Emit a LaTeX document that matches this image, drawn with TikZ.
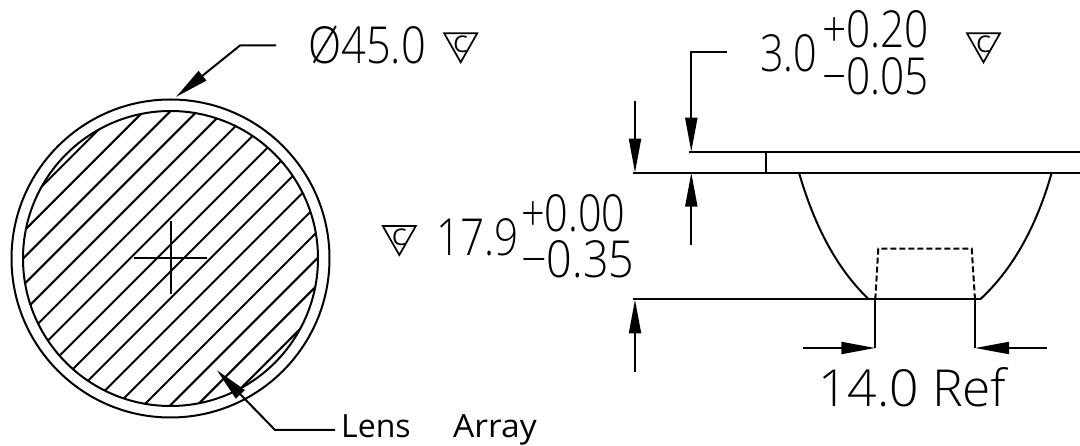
\documentclass[tikz,border=0pt]{standalone}
\usepackage{fontspec}
\setmainfont{Open Sans Light}
\newfontfamily\labelfont{Open Sans}
\usetikzlibrary{arrows.meta,calc}
\tikzset{
	part/.style={line width=2pt},
	dim/.style={line width=2pt,-{Triangle[length=34pt,width=12pt]},shorten >=0pt},
	lbl/.style={inner sep=0pt,anchor=base west},
	big/.style={lbl,font=\fontsize{51}{51}\selectfont},
	small/.style={lbl,font=\labelfont\fontsize{32}{32}\selectfont},
	tri/.style={line width=1.7pt},
}
\newcommand{\datum}[2]{%
	\coordinate (#1) at #2;
	\draw[tri] (#1) ++(-16.5,-10) -- ++(33,0) -- ++(-16.5,29) -- cycle;
	\node[inner sep=0pt,font=\labelfont\fontsize{23}{23}\selectfont] (#1t) at ([yshift=-1pt]#1) {C};
}
\begin{document}
\begin{tikzpicture}[x=1pt,y=-1pt]
	\useasboundingbox (0,0) rectangle (1080,446);
	% round view
	\coordinate (c) at (170.5,258.5);
	\draw[part] (c) circle (159);
	\draw[part] (c) circle (147.5);
	\begin{scope}
		\clip (c) circle (147.5);
		\foreach \n in {0,...,15}
			\draw[part,rotate around={45:(c)}] ($(c)+(-160,-142+18.9*\n)$) -- ($(c)+(160,-142+18.9*\n)$);
	\end{scope}
	\coordinate (ch) at (134,258.5);
	\coordinate (chr) at (207,258.5);
	\coordinate (cv) at (170.5,221);
	\coordinate (cvb) at (170.5,294);
	\draw[part] (ch) -- (chr);
	\draw[part] (cv) -- (cvb);
	% diameter
	\node[big,xscale=0.85] (dia) at (308,63.5) {Ø45.0};
	\coordinate (l0) at (276,45.5);
	\coordinate (l1) at (240,45.5);
	\coordinate (l2) at (176,97);
	\draw[dim] (l0) -- (l1) -- (l2);
	\datum{d0}{(460.7,43.3)}
	% lens array
	\node[small] (lens) at (341,438) {Lens};
	\node[small,xscale=1.05] (array) at (453,438) {Array};
	\coordinate (a0) at (335,430);
	\coordinate (a1) at (275,430);
	\coordinate (a2) at (216.7,370);
	\draw[dim] (a0) -- (a1) -- (a2);
	% side view
	\coordinate (p0) at (689,151.7);
	\coordinate (p1) at (1080,151.7);
	\coordinate (p2) at (632.7,172.7);
	\coordinate (p3) at (1080,172.7);
	\coordinate (p4) at (766,151.7);
	\coordinate (p5) at (766,172.7);
	\coordinate (b0) at (632.7,299.5);
	\coordinate (b1) at (980,299.5);
	\draw[part] (p0) -- (p1);
	\draw[part] (p2) -- (p3);
	\draw[part] (p4) -- (p5);
	\draw[part] (b0) -- (b1);
	\draw[part] (799,172.7) .. controls (815,228) and (838,270) .. (869,299.5);
	\draw[part] (1051.7,172.7) .. controls (1036,228) and (1012,270) .. (980,299.5);
	\draw[part,dash pattern=on 6pt off 3pt] (875.3,299.5) -- (878.3,248.7) -- (971.7,248.7) -- (975,299.5);
	% thickness
	\coordinate (t0) at (727,52.5);
	\coordinate (t1) at (691.3,52.5);
	\coordinate (t2) at (691.3,151.7);
	\coordinate (t3) at (691.3,245);
	\coordinate (t4) at (691.3,172.7);
	\draw[dim] (t0) -- (t1) -- (t2);
	\draw[dim] (t3) -- (t4);
	\node[big,xscale=0.81] (th) at (760,71.5) {3.0};
	\node[big,xscale=0.83] (thp) at (822,47.3) {+0.20};
	\node[big,xscale=0.83] (thm) at (822,95) {−0.05};
	\datum{d1}{(983.5,43.3)}
	% height
	\coordinate (h0) at (635,101);
	\coordinate (h1) at (635,172.7);
	\coordinate (h2) at (635,372);
	\coordinate (h3) at (635,299.5);
	\draw[dim] (h0) -- (h1);
	\draw[dim] (h2) -- (h3);
	\datum{d2}{(399.3,236)}
	\node[big,xscale=0.83] (ht) at (436,256) {17.9};
	\node[big,xscale=0.81] (htp) at (521,231.5) {+0.00};
	\node[big,xscale=0.88] (htm) at (521,278) {−0.35};
	% width
	\coordinate (w0) at (875.3,299.5);
	\coordinate (w1) at (875.3,348);
	\coordinate (w2) at (975,299.5);
	\coordinate (w3) at (975,348);
	\coordinate (w4) at (803.3,348);
	\coordinate (w5) at (1046.7,348);
	\draw[part] (w0) -- (w1);
	\draw[part] (w2) -- (w3);
	\draw[dim] (w4) -- (w1);
	\draw[dim] (w5) -- (w3);
	\node[big,xscale=1.01] (wt) at (818,406.5) {14.0 Ref};
\end{tikzpicture}
\end{document}
